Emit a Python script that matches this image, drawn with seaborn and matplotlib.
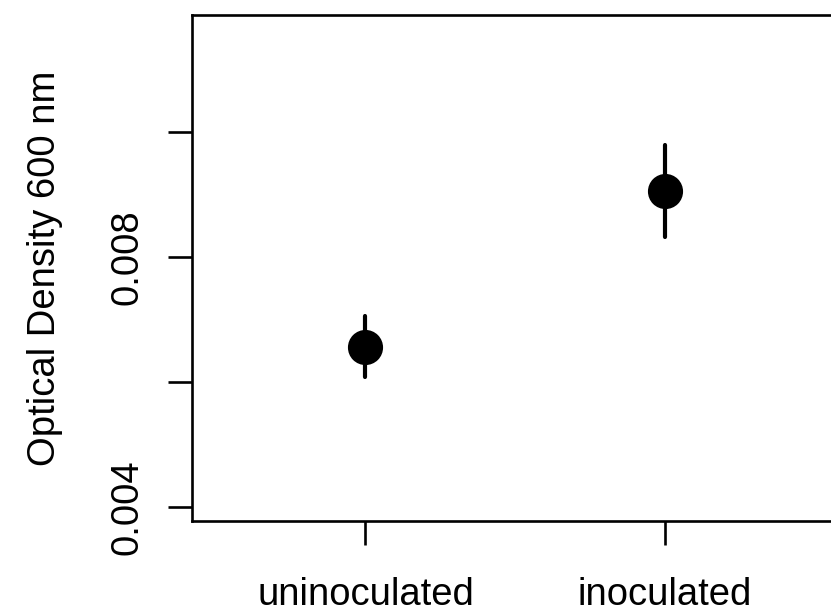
import matplotlib
matplotlib.use("Agg")
import matplotlib.pyplot as plt
import seaborn as sns
import pandas as pd

# data
groups = ["uninoculated", "inoculated"]
od_mean = [0.00656, 0.00906]
od_lower = [0.00608, 0.00832]
od_upper = [0.00706, 0.00979]
ytick_values = [0.004, 0.006, 0.008, 0.010]
ytick_labels = ["0.004", "", "0.008", ""]

sns.set_style("white")
plt.rcParams["font.family"] = ["Liberation Sans", "DejaVu Sans"]
plt.rcParams["text.color"] = "black"
plt.rcParams["axes.labelcolor"] = "black"

df = pd.DataFrame({"group": groups, "od": od_mean, "lo": od_lower, "hi": od_upper})

fig = plt.figure(figsize=(8.31, 6.13), dpi=100)
ax = fig.add_axes([192 / 831, 92 / 613, (838 - 192) / 831, (521 - 15) / 613])

ax.vlines(df["group"], df["lo"], df["hi"], color="black", linewidth=3.0,
          capstyle="round", zorder=2)
sns.scatterplot(data=df, x="group", y="od", ax=ax, color="black", s=640,
                linewidth=0, zorder=3, legend=False)

ax.set_xlim(-0.58, 1.58)
ax.set_ylim(0.00378, 0.01187)
ax.set_yticks(ytick_values)
ax.set_yticklabels(ytick_labels, rotation=90, va="center")
ax.set_xticks([0, 1])
ax.set_xticklabels(groups)

for side in ["left", "bottom", "top", "right"]:
    ax.spines[side].set_visible(True)
    ax.spines[side].set_color("black")
    ax.spines[side].set_linewidth(1.9)

ax.tick_params(axis="both", direction="out", length=17.3, width=1.9,
               color="black", labelsize=27.5, labelcolor="black",
               left=True, bottom=True)
ax.tick_params(axis="y", pad=16)
ax.tick_params(axis="x", pad=23)
ax.set_xlabel("")
ax.set_ylabel("Optical Density 600 nm", fontsize=27.5, labelpad=34, color="black")

fig.savefig("out.png", dpi=100)
